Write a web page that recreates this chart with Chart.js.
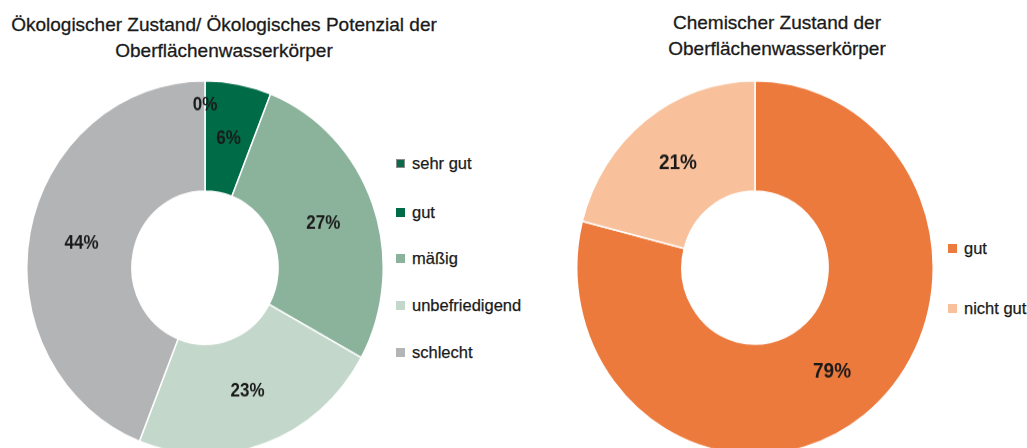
<!DOCTYPE html>
<html>
<head>
<meta charset="utf-8">
<script src="https://cdn.jsdelivr.net/npm/chart.js@4.4.1/dist/chart.umd.min.js"></script>
<style>
    body { margin: 0; width: 1027px; height: 448px; overflow: hidden; background: #fff;
           font-family: "Liberation Sans", Arial, sans-serif; color: #1a1a1a; position: relative; }
    .title { position: absolute; text-align: center; font-size: 19px; line-height: 26px; white-space: nowrap;
             -webkit-text-stroke: 0.3px #1a1a1a; }
    .wrap { position: absolute; width: 358px; height: 358px; transform-origin: 0 0; transform: scaleY(1.048); }
    .item { position: absolute; white-space: nowrap; font-size: 16.5px; line-height: 20px; height: 20px;
            -webkit-text-stroke: 0.25px #1a1a1a; }
    .sw { display: inline-block; width: 9px; height: 9px; margin-right: 7px; box-sizing: border-box; vertical-align: 1px; }
</style>
</head>
<body>

<div class="title" style="left:-26px; width:500px; top:12px;">Ökologischer Zustand/ Ökologisches Potenzial der<br>Oberflächenwasserkörper</div>
<div class="title" style="left:527px; width:500px; top:10px;">Chemischer Zustand der<br>Oberflächenwasserkörper</div>

<div class="wrap" style="left:26px; top:80px;"><canvas id="ecoChart" width="358" height="358"></canvas></div>
<div class="wrap" style="left:576px; top:80px;"><canvas id="chemChart" width="358" height="358"></canvas></div>

<div id="ecoLegend"></div>
<div id="chemLegend"></div>

<script>
// Ecological status
const ecoLabels = ["sehr gut", "gut", "mäßig", "unbefriedigend", "schlecht"];
const ecoValues = [0, 6, 27, 23, 44];
const ecoColors = ["#0b6a47", "#006b47", "#8bb29b", "#c3d8cb", "#b3b4b6"];

// Chemical status
const chemLabels = ["gut", "nicht gut"];
const chemValues = [79, 21];
const chemColors = ["#ec7a3d", "#f8c19c"];

// Percent labels inside the ring
const pctLabels = {
    id: "pctLabels",
    afterDatasetsDraw(chart, args, opts) {
        const ctx = chart.ctx;
        const meta = chart.getDatasetMeta(0);
        const values = chart.data.datasets[0].data;
        ctx.save();
        ctx.fillStyle = "#1a1a1a";
        ctx.font = "bold " + opts.size + "px 'Liberation Sans', Arial, sans-serif";
        ctx.textAlign = "center";
        ctx.textBaseline = "middle";
        meta.data.forEach((arc, i) => {
            const p = arc.getProps(["x", "y", "startAngle", "endAngle", "innerRadius", "outerRadius"], true);
            const mid = (p.startAngle + p.endAngle) / 2;
            const r = values[i] === 0 ? p.outerRadius * 0.87 : (p.innerRadius + p.outerRadius) / 2;
            const x = p.x + Math.cos(mid) * r;
            const y = p.y + Math.sin(mid) * r;
            ctx.save();
            ctx.translate(x, y);
            ctx.scale(1, 1.1);
            ctx.fillText(values[i] + "%", 0, 0);
            ctx.restore();
        });
        ctx.restore();
    }
};

function makeDoughnut(id, labels, values, colors, labelSize) {
    new Chart(document.getElementById(id), {
        type: "doughnut",
        data: {
            labels: labels,
            datasets: [{
                data: values,
                backgroundColor: colors,
                borderColor: "#ffffff",
                borderWidth: 1.5
            }]
        },
        options: {
            responsive: false,
            animation: false,
            cutout: "41%",
            layout: { padding: 0 },
            events: [],
            plugins: {
                legend: { display: false },
                tooltip: { enabled: false },
                pctLabels: { size: labelSize }
            }
        },
        plugins: [pctLabels]
    });
}

makeDoughnut("ecoChart", ecoLabels, ecoValues, ecoColors, 17);
makeDoughnut("chemChart", chemLabels, chemValues, chemColors, 19);

// HTML legends
function makeLegend(el, labels, colors, left, tops, borders) {
    const box = document.getElementById(el);
    labels.forEach((lab, i) => {
        const d = document.createElement("div");
        d.className = "item";
        d.style.left = left + "px";
        d.style.top = (tops[i] - 10) + "px";
        const border = borders && borders[i] ? "border:1px solid " + borders[i] + ";" : "";
        d.innerHTML = '<span class="sw" style="background:' + colors[i] + ';' + border + '"></span>' + lab;
        box.appendChild(d);
    });
}

makeLegend("ecoLegend", ecoLabels, ecoColors, 396, [163, 212, 258, 305, 352], ["#8c8c8c"]);
makeLegend("chemLegend", chemLabels, chemColors, 948, [248, 308]);
</script>
</body>
</html>
